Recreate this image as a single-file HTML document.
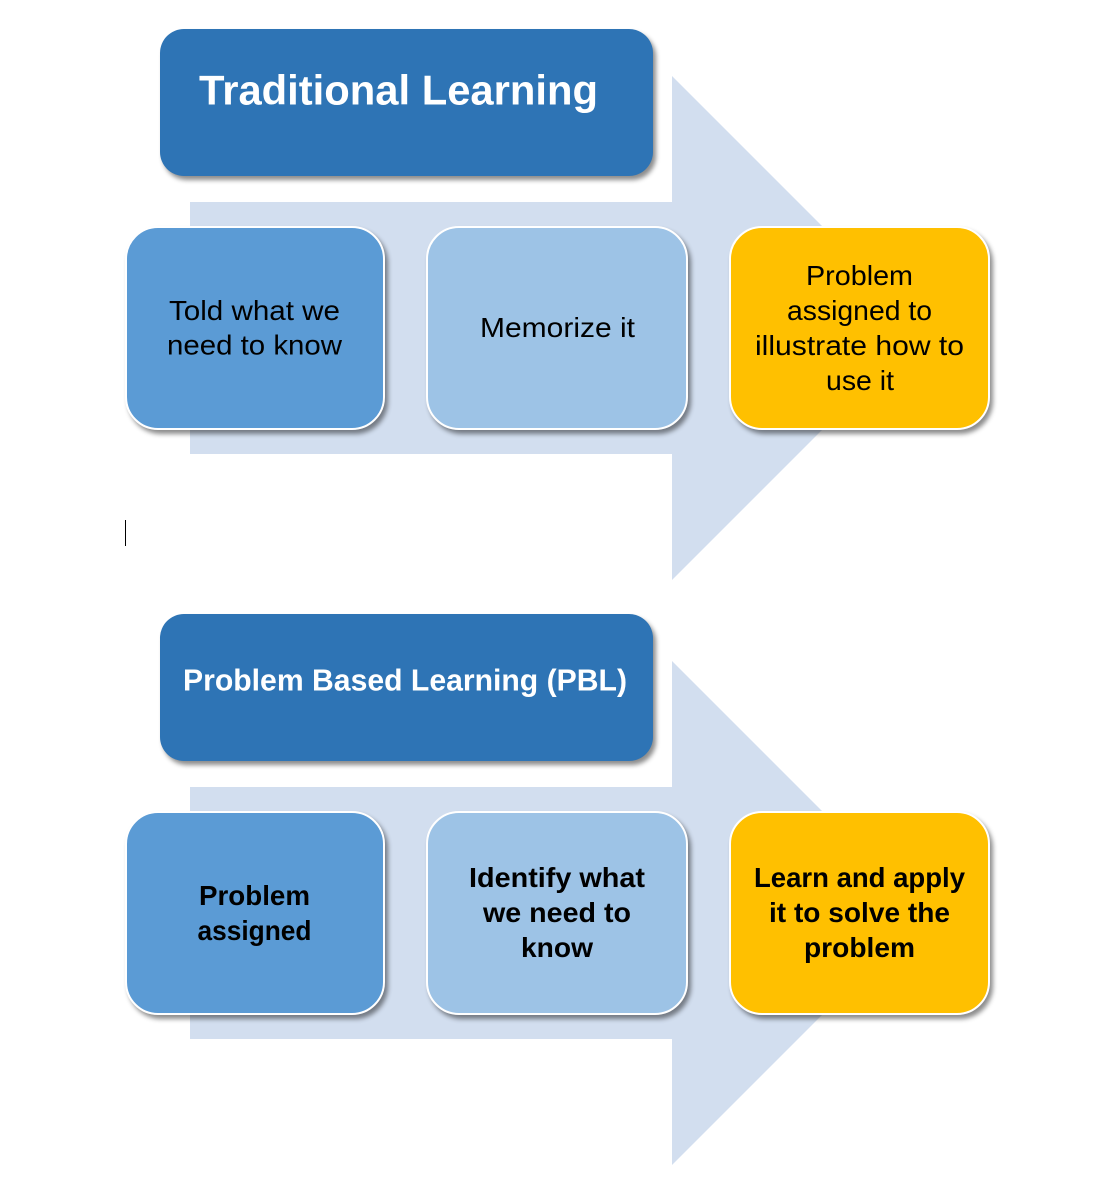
<!DOCTYPE html>
<html>
<head>
<meta charset="utf-8">
<style>
html,body{margin:0;padding:0;background:#fff;}
#p{position:relative;width:1100px;height:1192px;overflow:hidden;background:#fff;}
svg{position:absolute;left:0;top:0;}
.b{position:absolute;box-sizing:border-box;border:2px solid #fff;border-radius:33px;box-shadow:3px 4px 5px rgba(0,0,0,.45);height:203.5px;}
.h{position:absolute;left:160px;width:493px;height:147px;background:#2e74b5;border-radius:24px;box-shadow:3px 4px 5px rgba(0,0,0,.45);}
.c1{background:#5b9bd5;left:124.5px;width:260.5px;}
.c2{background:#9dc3e6;left:425.5px;width:262px;}
.c3{background:#ffc000;left:729px;width:260.5px;}
text{font-family:"Liberation Sans",sans-serif;fill:#000;font-size:28px;}
.bd{font-weight:bold;font-size:28px;}
.t{font-weight:bold;fill:#fff;}
</style>
</head>
<body>
<div id="p">
<svg width="1100" height="1192">
<polygon points="190,202 672,202 672,76 924,328 672,580 672,454 190,454" fill="#d2deef"/>
<polygon points="190,787 672,787 672,661 924,913 672,1165 672,1039 190,1039" fill="#d2deef"/>
<rect x="125" y="520" width="1" height="26" fill="#000"/>
</svg>
<div class="h" style="top:29px;"></div>
<div class="b c1" style="top:226px;"></div>
<div class="b c2" style="top:226px;"></div>
<div class="b c3" style="top:226px;"></div>
<div class="h" style="top:614px;"></div>
<div class="b c1" style="top:811px;"></div>
<div class="b c2" style="top:811px;"></div>
<div class="b c3" style="top:811px;"></div>
<svg width="1100" height="1192">
<text class="t" x="199" y="104.500" style="font-size:42px" textLength="399" lengthAdjust="spacingAndGlyphs">Traditional Learning</text>
<text x="169" y="320" textLength="171" lengthAdjust="spacingAndGlyphs">Told what we</text>
<text x="167" y="354.500" textLength="175" lengthAdjust="spacingAndGlyphs">need to know</text>
<text x="480" y="337" textLength="155" lengthAdjust="spacingAndGlyphs">Memorize it</text>
<text x="806" y="285" textLength="107" lengthAdjust="spacingAndGlyphs">Problem</text>
<text x="787" y="320" textLength="145" lengthAdjust="spacingAndGlyphs">assigned to</text>
<text x="755" y="355" textLength="209" lengthAdjust="spacingAndGlyphs">illustrate how to</text>
<text x="826" y="390" textLength="68" lengthAdjust="spacingAndGlyphs">use it</text>
<text class="t" x="183" y="690.500" style="font-size:31px" textLength="444" lengthAdjust="spacingAndGlyphs">Problem Based Learning (PBL)</text>
<text class="bd" x="199" y="905" textLength="111" lengthAdjust="spacingAndGlyphs">Problem</text>
<text class="bd" x="197.500" y="940" textLength="114" lengthAdjust="spacingAndGlyphs">assigned</text>
<text class="bd" x="469" y="887" textLength="176" lengthAdjust="spacingAndGlyphs">Identify what</text>
<text class="bd" x="483" y="922" textLength="148" lengthAdjust="spacingAndGlyphs">we need to</text>
<text class="bd" x="521" y="957" textLength="72" lengthAdjust="spacingAndGlyphs">know</text>
<text class="bd" x="754" y="887" textLength="211" lengthAdjust="spacingAndGlyphs">Learn and apply</text>
<text class="bd" x="769" y="922" textLength="181" lengthAdjust="spacingAndGlyphs">it to solve the</text>
<text class="bd" x="804" y="957" textLength="111" lengthAdjust="spacingAndGlyphs">problem</text>
</svg>
</div>
</body>
</html>
